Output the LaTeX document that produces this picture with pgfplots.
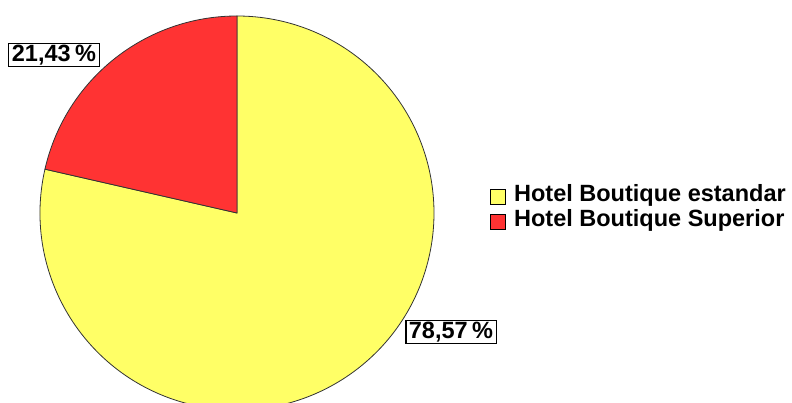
\documentclass[border=0pt]{standalone}
\usepackage{pgfplots}
\usepackage{pgfplotstable}
\pgfplotsset{compat=1.18}
\usepackage{fontspec}
\setmainfont{Liberation Sans}
\definecolor{pieyellow}{HTML}{FFFF66}
\definecolor{piered}{HTML}{FF3333}
\pgfplotstableread{
label value
estandar 78.57
Superior 21.43
}\piedata
\begin{document}
\begin{tikzpicture}
\pgfplotstablegetelem{0}{value}\of\piedata \let\vA\pgfplotsretval
\pgfplotstablegetelem{1}{value}\of\piedata \let\vB\pgfplotsretval
\pgfmathsetmacro{\aRedEnd}{90+3.6*\vB}
\pgfmathsetmacro{\aYelEnd}{450}
\pgfkeys{/pgf/number format/.cd, assume math mode=true, fixed, precision=2, use comma, fixed zerofill}
\begin{axis}[
  name=ax,
  scale only axis, width=792pt, height=403pt,
  xmin=0, xmax=792, ymin=0, ymax=403,
  hide axis, clip=true,
  legend style={at={(0.6185,0.4815)}, anchor=west, draw=none, fill=none,
    font=\bfseries\fontsize{23.5}{25}\selectfont, row sep=0pt, inner sep=0pt,
    nodes={inner xsep=4.5pt, inner ysep=2pt, text height=16pt, text depth=5pt}},
  legend cell align=left,
]
\fill[pieyellow, draw=black!80, line width=0.8pt] (axis cs:237,190) -- ++(\aRedEnd:197pt) arc[start angle=\aRedEnd, end angle=\aYelEnd, radius=197pt] -- cycle;
\fill[piered, draw=black!80, line width=0.8pt] (axis cs:237,190) -- ++(90:197pt) arc[start angle=90, end angle=\aRedEnd, radius=197pt] -- cycle;
\addlegendimage{legend image code/.code={\draw[fill=pieyellow,draw=black,line width=0.8pt] (0pt,-7.5pt) rectangle (15pt,7.5pt); \path (19pt,0pt);}}
\addlegendentry{Hotel Boutique estandar}
\addlegendimage{legend image code/.code={\draw[fill=piered,draw=black,line width=0.8pt] (0pt,-7.5pt) rectangle (15pt,7.5pt); \path (19pt,0pt);}}
\addlegendentry{Hotel Boutique Superior}
\node[draw=black, line width=1.2pt, fill=white, inner xsep=3pt, inner ysep=1.5pt, text height=17pt, text depth=3pt, font=\bfseries\fontsize{23.5}{25}\selectfont] at (axis cs:54,348) {\pgfmathprintnumber{\vB}\kern4.5pt\%};
\node[draw=black, line width=1.2pt, fill=white, inner xsep=3pt, inner ysep=1.5pt, text height=17pt, text depth=3pt, font=\bfseries\fontsize{23.5}{25}\selectfont] at (axis cs:451,71) {\pgfmathprintnumber{\vA}\kern4.5pt\%};
\end{axis}
\pgfresetboundingbox
\path[use as bounding box] (ax.south west) rectangle (ax.north east);
\end{tikzpicture}
\end{document}
